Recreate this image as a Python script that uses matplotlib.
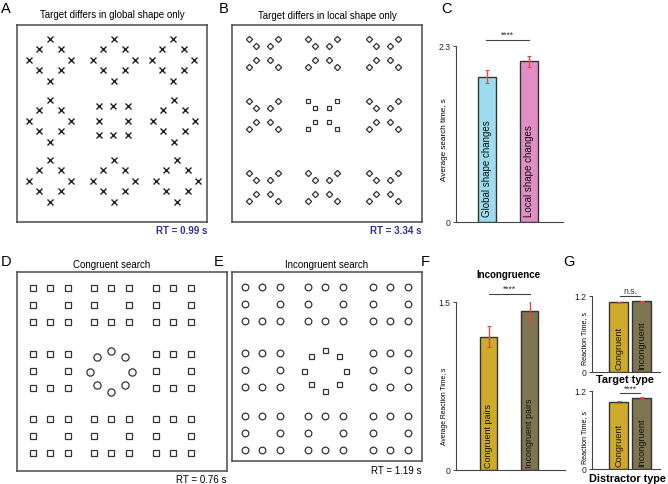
import matplotlib.pyplot as plt
import numpy as np

plt.rcParams['font.family'] = ['Liberation Sans', 'DejaVu Sans']

W, H = 668, 485

# ---------- stimulus layouts (figure pixel positions) ----------
# A: diamonds of X's, target group is a square of X's
a_cx = [50, 114, 173, 50, 113, 174, 50, 114, 177]
a_cy = [61, 61, 61, 122, 122, 122, 182, 182, 182]
a_target = 4
diamond_dx = [0, -11, 11, -21, 21, -11, 11, 0]
diamond_dy = [-21, -11, -11, 0, 0, 10, 10, 21]
sq8_dx = [-14.5, 0, 14.5, -14.5, 14.5, -14.5, 0, 14.5]
sq8_dy = [-14.5, -14.5, -14.5, 0, 0, 14.5, 14.5, 14.5]

# B: X-shapes of diamonds, target X made of squares
b_cx = [263, 322, 383, 263, 322, 383, 263, 322, 383]
b_cy = [54, 54, 54, 116, 116, 116, 188, 188, 188]
b_target = 4
xshape_dx = [-14.5, -6.7, 6.7, 14.5, -14.5, -6.7, 6.7, 14.5]
xshape_dy = [-14, -6.5, -6.5, -14, 14, 6.7, 6.7, 14]

# D: squares of squares, target is a circle of circles
d_cx = [50, 111, 173, 50, 111, 173, 50, 111, 173]
d_cy = [306, 306, 306, 372, 372, 372, 437, 437, 437]
d_target = 4
grid_dx = [-17.5, 0, 17.5, -17.5, 17.5, -17.5, 0, 17.5]
grid_dy = [-17.5, -17.5, -17.5, 0, 0, 17, 17, 17]
ring_dx = [0, -14.3, 14, -21, 20.7, -14.3, 14, 0]
ring_dy = [-20.5, -13.9, -13.9, 0.5, 0.5, 13.8, 13.8, 20.5]

# E: squares of circles, target is a circle of squares
e_cx = [262, 325, 390, 262, 325, 390, 262, 325, 390]
e_cy = [305, 305, 305, 371, 371, 371, 434, 434, 434]
e_target = 4

# ---------- bar data ----------
c_labels = ['Global shape changes', 'Local shape changes']
c_values = [1.90, 2.10]
c_errors = [0.085, 0.07]
c_colors = ['#9ddcef', '#e08ec3']

f_labels = ['Congruent pairs', 'Incongruent pairs']
f_values = [1.19, 1.42]
f_errors = [0.094, 0.09]

g_labels = ['Congruent', 'Incongruent']
g_target_values = [1.10, 1.115]
g_distractor_values = [1.035, 1.10]
g_errors = [0.012, 0.012]
pair_colors = ['#cdaa2a', '#7d7650']

ERR = '#e8484a'
EDGE = '#333333'

fig = plt.figure(figsize=(W / 100, H / 100), dpi=100)


def px_axes(l, t, r, b):
    return fig.add_axes([l / W, 1 - b / H, (r - l) / W, (b - t) / H])


def ftext(x, y, s, **kw):
    kw.setdefault('ha', 'center')
    kw.setdefault('va', 'center')
    fig.text(x / W, 1 - y / H, s, **kw)


def stim_axes(l, t, r, b):
    ax = px_axes(l, t, r, b)
    ax.set_xlim(l, r)
    ax.set_ylim(b, t)
    ax.set_xticks([])
    ax.set_yticks([])
    for s in ax.spines.values():
        s.set_color('#4a4a4a')
        s.set_linewidth(1.1)
    return ax


def draw_groups(ax, cx, cy, target, dx, dy, tdx, tdy, mk, tmk, ms, tms):
    for i, (x0, y0) in enumerate(zip(cx, cy)):
        if i == target:
            xs, ys, m, s = x0 + np.array(tdx), y0 + np.array(tdy), tmk, tms
        else:
            xs, ys, m, s = x0 + np.array(dx), y0 + np.array(dy), mk, ms
        if m == 'x':
            ax.plot(xs, ys, ls='none', marker='x', ms=s, color='#222222', mew=1.0)
        else:
            ax.plot(xs, ys, ls='none', marker=m, ms=s, mfc='none',
                    mec='#333333', mew=0.9)


# ----- A -----
ax = stim_axes(17, 26, 207, 223)
draw_groups(ax, a_cx, a_cy, a_target, diamond_dx, diamond_dy, sq8_dx, sq8_dy,
            'x', 'x', 4.0, 4.0)
ftext(6, 9, 'A', fontsize=10.5)
ftext(112, 15, 'Target differs in global shape only', fontsize=7)
ftext(207, 231, 'RT = 0.99 s', ha='right', fontsize=7, fontweight='bold',
      color='#2e3192')

# ----- B -----
ax = stim_axes(232, 26, 422, 223)
draw_groups(ax, b_cx, b_cy, b_target, xshape_dx, xshape_dy, xshape_dx, xshape_dy,
            'D', 's', 3.2, 3.5)
ftext(224, 9, 'B', fontsize=10.5)
ftext(327, 16, 'Target differs in local shape only', fontsize=7)
ftext(422, 231, 'RT = 3.34 s', ha='right', fontsize=7, fontweight='bold',
      color='#2e3192')

# ----- D -----
ax = stim_axes(17, 273, 227, 472)
draw_groups(ax, d_cx, d_cy, d_target, grid_dx, grid_dy, ring_dx, ring_dy,
            's', 'o', 4.0, 5.2)
ftext(6, 262, 'D', fontsize=10.5)
ftext(112, 265, 'Congruent search', fontsize=7)
ftext(226, 480, 'RT = 0.76 s', ha='right', fontsize=7)

# ----- E -----
ax = stim_axes(232, 273, 422, 462)
draw_groups(ax, e_cx, e_cy, e_target, grid_dx, grid_dy, ring_dx, ring_dy,
            'o', 's', 4.8, 3.6)
ftext(219, 262, 'E', fontsize=10.5)
ftext(327, 265, 'Incongruent search', fontsize=7)
ftext(421, 471, 'RT = 1.19 s', ha='right', fontsize=7)


def bar_axes(l, t, r, b, c1, c2, width_px, ymax, yticklabels):
    ax = px_axes(l, t, r, b)
    unit = c2 - c1
    ax.set_xlim(1 - (c1 - l) / unit, 2 + (r - c2) / unit)
    ax.set_ylim(0, ymax)
    ax.set_yticks([0, ymax])
    ax.set_yticklabels(yticklabels)
    ax.set_xticks([])
    for s in ['top', 'right']:
        ax.spines[s].set_visible(False)
    for s in ['left', 'bottom']:
        ax.spines[s].set_color('#444444')
        ax.spines[s].set_linewidth(0.8)
    ax.tick_params(axis='y', length=2.5, width=0.7, pad=1.5, labelsize=6.2,
                   colors='#444444', labelcolor='#222222')
    return ax, width_px / unit


def draw_bars(ax, w, values, errors, colors, labels, fs, lab_y):
    x = np.arange(1, len(values) + 1)
    ax.bar(x, values, w, color=colors, edgecolor=EDGE, linewidth=1.0)
    ax.errorbar(x, values, yerr=errors, fmt='none', ecolor=ERR, elinewidth=1.0,
                capsize=1.2, capthick=0.8)
    for xi, lab in zip(x, labels):
        ax.text(xi, lab_y, lab, rotation=90, ha='center', va='bottom',
                fontsize=fs, color='#111111')
    return x


def sig(ax, x1, x2, y, ty, s, fs=6.2):
    ax.plot([x1, x2], [y, y], color='#444444', lw=0.8, clip_on=False)
    ax.text((x1 + x2) / 2, ty, s, ha='center', va='center', fontsize=fs,
            color='#333333')


# ----- C -----
ax, w = bar_axes(456, 47, 563, 223, 487, 529, 18, 2.3, ['0', '2.3'])
draw_bars(ax, w, c_values, c_errors, c_colors, c_labels, 7, 0.08)
sig(ax, 0.98, 2.0, 2.38, 2.45, '****')
ftext(447, 9, 'C', fontsize=10.5)
ftext(444.5, 140, 'Average search time, s', rotation=90, fontsize=5.9)

# ----- F -----
ax, w = bar_axes(456, 303, 565, 471, 488.5, 529.5, 17, 1.5, ['0', '1.5'])
draw_bars(ax, w, f_values, f_errors, pair_colors, f_labels, 6.4, 0.03)
sig(ax, 1.0, 2.0, 1.571, 1.62, '****')
ftext(425, 262, 'F', fontsize=10.5)
ftext(508, 275, 'Incongruence', fontsize=7, fontweight='bold')
ftext(444.5, 406, 'Average Reaction Time, s', rotation=90, fontsize=4.9)

# ----- G -----
ax, w = bar_axes(592, 297, 660, 373, 618.5, 641.5, 19, 1.2, ['0', '1.2'])
draw_bars(ax, w, g_target_values, g_errors, pair_colors, g_labels, 6.6, 0.04)
sig(ax, 1.07, 1.93, 1.2, 1.28, 'n.s.')
ftext(569, 262, 'G', fontsize=10.5)
ftext(625, 380, 'Target type', fontsize=7.8, fontweight='bold')
ftext(585, 338, 'Reaction Time, s', rotation=90, fontsize=5.1)

ax, w = bar_axes(592, 392, 660, 470, 618.5, 641.5, 19, 1.2, ['0', '1.2'])
draw_bars(ax, w, g_distractor_values, g_errors, pair_colors, g_labels, 6.6, 0.04)
sig(ax, 1.07, 1.93, 1.175, 1.24, '****')
ftext(627, 479, 'Distractor type', fontsize=7.8, fontweight='bold')
ftext(585, 437, 'Reaction Time, s', rotation=90, fontsize=5.1)

fig.savefig('out.png', dpi=100)
